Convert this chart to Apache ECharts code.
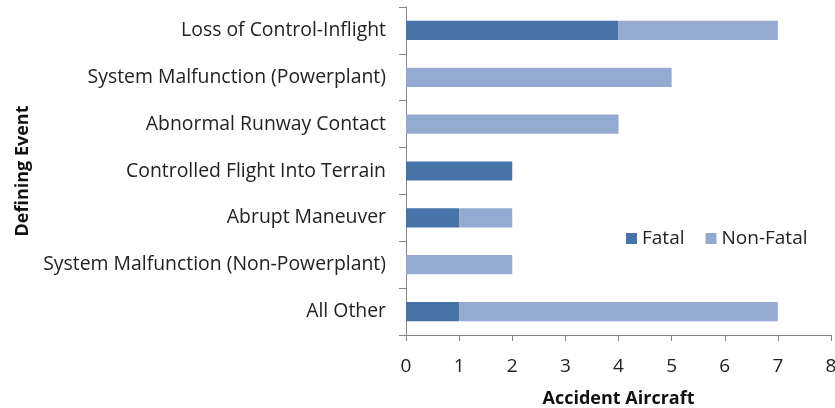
<!DOCTYPE html>
<html>
<head>
<meta charset="utf-8">
<script src="https://cdn.jsdelivr.net/npm/echarts@6/dist/echarts.min.js"></script>
<style>
  html, body { margin: 0; padding: 0; background: #fff; }
  #chart { width: 835px; height: 408px; }
</style>
</head>
<body>
<div id="chart"></div>
<script>
// Defining events, listed top to bottom
const categories = [
  'Loss of Control-Inflight',
  'System Malfunction (Powerplant)',
  'Abnormal Runway Contact',
  'Controlled Flight Into Terrain',
  'Abrupt Maneuver',
  'System Malfunction (Non-Powerplant)',
  'All Other'
];
const fatal    = [4, 0, 0, 2, 1, 0, 1];
const nonFatal = [3, 5, 4, 0, 1, 2, 6];
const xTicks = [0, 1, 2, 3, 4, 5, 6, 7, 8];

const FONT = '"Open Sans", "Liberation Sans", sans-serif';
const AXIS_GRAY = '#868686';

const chart = echarts.init(document.getElementById('chart'), null, { renderer: 'canvas' });
chart.setOption({
  animation: false,
  textStyle: { fontFamily: FONT },
  grid: {
    left: 406, right: 4, top: 7, bottom: 73,
    containLabel: false, outerBoundsMode: 'none'
  },
  legend: {
    data: ['Fatal', 'Non-Fatal'],
    left: 621, top: 224,
    itemWidth: 11, itemHeight: 11, itemGap: 21,
    icon: 'rect',
    textStyle: { fontFamily: FONT, fontSize: 19, color: '#222' }
  },
  xAxis: {
    type: 'value',
    min: xTicks[0], max: xTicks[xTicks.length - 1], interval: 1,
    name: 'Accident Aircraft',
    nameLocation: 'middle', nameGap: 55,
    nameTextStyle: { fontFamily: FONT, fontSize: 18, fontWeight: 'bold', color: '#111' },
    axisLine: { show: true, lineStyle: { color: AXIS_GRAY, width: 1 } },
    axisTick: { show: true, length: 6, lineStyle: { color: AXIS_GRAY } },
    axisLabel: { fontFamily: FONT, fontSize: 19, color: '#222', margin: 22 },
    splitLine: { show: false }
  },
  yAxis: {
    type: 'category',
    data: categories,
    inverse: true,
    name: 'Defining Event',
    nameLocation: 'middle', nameGap: 374, nameRotate: 90,
    nameTextStyle: { fontFamily: FONT, fontSize: 18, fontWeight: 'bold', color: '#111' },
    axisLine: { show: true, lineStyle: { color: AXIS_GRAY, width: 1 } },
    axisTick: { show: true, length: 7, lineStyle: { color: AXIS_GRAY } },
    axisLabel: { fontFamily: FONT, fontSize: 19.4, color: '#222', margin: 20 }
  },
  series: [
    {
      name: 'Fatal', type: 'bar', stack: 'total',
      data: fatal,
      barCategoryGap: '59%',
      itemStyle: { color: '#4674A8' }
    },
    {
      name: 'Non-Fatal', type: 'bar', stack: 'total',
      data: nonFatal,
      barCategoryGap: '59%',
      itemStyle: { color: '#95AAD0' }
    }
  ]
});
</script>
</body>
</html>
